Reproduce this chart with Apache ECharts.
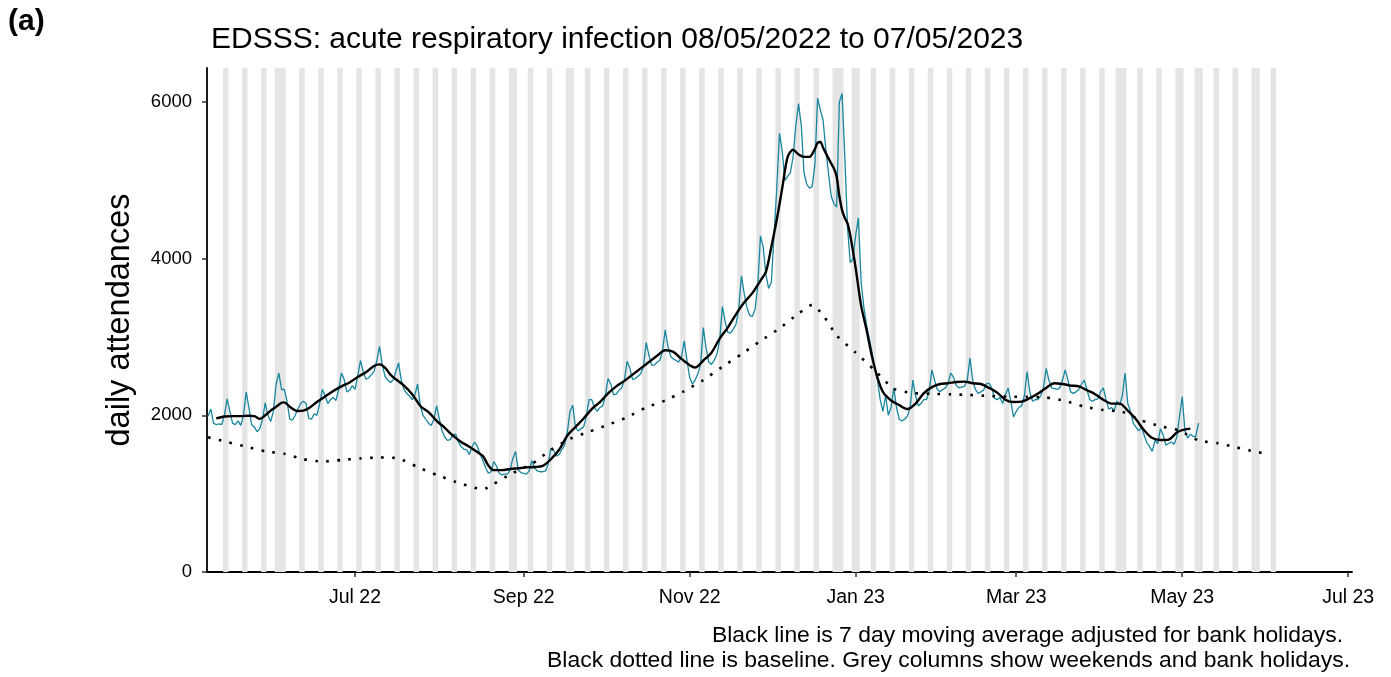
<!DOCTYPE html>
<html>
<head>
<meta charset="utf-8">
<title>EDSSS acute respiratory infection</title>
<script src="https://cdn.jsdelivr.net/npm/echarts@6/dist/echarts.min.js"></script>
<style>
  html, body { margin: 0; padding: 0; background: #ffffff; }
  #chart { width: 1391px; height: 677px; }
</style>
</head>
<body>
<div id="chart"></div>
<script>
// day 0 = Sun 08/05/2022
const startDate = [2022, 4, 8];

// daily attendances, one row per week (Sun .. Sat)
const dailyAttendances = [
  1990, 2080, 1900, 1880, 1890, 1880, 2000,
  2210, 2050, 1900, 1880, 1930, 1870, 2000,
  2300, 2100, 1880, 1850, 1790, 1830, 1950,
  2160, 2000, 1920, 2050, 2400, 2540, 2330,
  2330, 2180, 1950, 1940, 2000, 2080, 2150,
  2180, 2150, 1960, 1950, 2020, 2000, 2150,
  2330, 2250, 2150, 2200, 2230, 2190, 2330,
  2540, 2460, 2300, 2320, 2380, 2330, 2500,
  2700, 2560, 2460, 2480, 2520, 2560, 2700,
  2880, 2650, 2500, 2450, 2420, 2450, 2560,
  2670, 2450, 2330, 2280, 2250, 2200, 2260,
  2400, 2120, 2000, 1950, 1900, 1870, 1950,
  2120, 1950, 1800, 1720, 1680, 1690, 1750,
  1760, 1660, 1600, 1570, 1560, 1500, 1600,
  1660, 1600, 1500, 1420, 1330, 1260, 1280,
  1410, 1350, 1260, 1240, 1250, 1250, 1300,
  1450, 1540, 1300, 1270, 1260, 1250, 1290,
  1420, 1330, 1290, 1280, 1280, 1290, 1380,
  1580, 1550, 1480, 1500, 1560, 1620, 1780,
  2050, 2130, 1850, 1800, 1830, 1850, 1980,
  2200, 2200, 2100, 2050, 2100, 2120, 2250,
  2470, 2400, 2260, 2270, 2320, 2350, 2450,
  2690, 2600, 2460, 2470, 2500, 2530, 2620,
  2930, 2770, 2640, 2640, 2680, 2700, 2820,
  3090, 2880, 2750, 2720, 2700, 2680, 2750,
  2950, 2700, 2480, 2400, 2450, 2530, 2650,
  3120, 2860, 2680, 2650, 2700, 2780, 2950,
  3390, 3200, 3060, 3050, 3100, 3160, 3350,
  3780, 3560, 3380, 3280, 3260, 3350, 3650,
  4290, 4150, 3800, 3620, 3700, 4300, 4900,
  5600, 5370, 5000, 5050, 5100, 5300, 5700,
  5980, 5700, 5100, 4950, 4900, 4920, 5200,
  6050, 5900, 5770, 5400, 5090, 4800, 4700,
  4660, 6000, 6110, 5300, 4400, 3950, 4000,
  4300, 4520, 3700, 3380, 3150, 2980, 2800,
  2600, 2450, 2200, 2050, 2250, 2000, 2100,
  2350, 2100, 1950, 1930, 1950, 1990, 2100,
  2450, 2250, 2120, 2150, 2200, 2200, 2300,
  2580, 2450, 2330, 2300, 2330, 2350, 2420,
  2540, 2480, 2380, 2350, 2360, 2370, 2450,
  2730, 2450, 2330, 2280, 2300, 2320, 2400,
  2410, 2350, 2220, 2200, 2230, 2150, 2260,
  2350, 2180, 1980, 2050, 2100, 2120, 2250,
  2560, 2300, 2180, 2200, 2200, 2250, 2350,
  2600, 2450, 2350, 2340, 2330, 2350, 2450,
  2580, 2450, 2300, 2280, 2300, 2330, 2400,
  2450, 2330, 2200, 2180, 2200, 2210, 2300,
  2350, 2200, 2080, 2100, 2060, 2180, 2130,
  2250, 2540, 2150, 2050, 1900, 1850, 1800,
  1850, 1750, 1650, 1600, 1540, 1680, 1640,
  1830, 1750, 1620, 1640, 1660, 1630, 1720,
  1980, 2240, 1800, 1710, 1760, 1730, 1730,
  1900
];

// 7 day moving average (day offset, value)
const maDay = [
  3, 6, 9, 12, 15, 17, 19, 21, 23, 25, 27, 28, 30, 33, 35, 37, 40, 43, 46, 49,
  52, 55, 58, 61, 63, 65, 67, 69, 72, 75, 78, 81, 84, 87, 90, 93, 96, 99, 101, 103,
  105, 108, 111, 114, 117, 120, 123, 126, 129, 132, 135, 138, 141, 144, 147, 150, 153, 156, 159, 162,
  165, 168, 171, 174, 177, 179, 182, 185, 188, 191, 194, 197, 200, 203, 205, 207, 209, 211, 213, 215,
  217, 219, 221, 223, 224, 225, 226, 228, 230, 231, 232, 233, 234, 235, 236, 238, 240, 242, 244, 246,
  248, 251, 254, 257, 260, 263, 266, 269, 272, 275, 278, 281, 284, 287, 290, 293, 296, 299, 302, 305,
  308, 311, 314, 317, 320, 323, 326, 329, 332, 335, 338, 341, 344, 347, 350, 353, 356, 358, 361
];
const maValue = [
  1960, 1985, 1990, 1990, 1995, 1990, 1955, 2000, 2060, 2110, 2160, 2165, 2110, 2055, 2060, 2090, 2170, 2240, 2310, 2370,
  2420, 2490, 2550, 2630, 2650, 2610, 2520, 2460, 2380, 2270, 2120, 2040, 1930, 1840, 1740, 1660, 1600, 1530, 1480, 1360,
  1300, 1300, 1315, 1325, 1335, 1340, 1355, 1440, 1560, 1740, 1850, 1960, 2080, 2170, 2280, 2370, 2440, 2520, 2600, 2680,
  2760, 2830, 2810, 2720, 2640, 2610, 2700, 2800, 2980, 3120, 3290, 3440, 3560, 3720, 3830, 4150, 4500, 4900, 5300, 5390,
  5330, 5300, 5300, 5400, 5480, 5490, 5420, 5280, 5150, 5050, 4800, 4620, 4520, 4450, 4300, 3880, 3400, 3090, 2750, 2480,
  2300, 2190, 2130, 2080, 2150, 2280, 2360, 2400, 2410, 2425, 2430, 2410, 2400, 2350, 2290, 2200, 2170, 2175, 2220, 2280,
  2350, 2410, 2400, 2380, 2370, 2320, 2270, 2200, 2150, 2150, 2060, 1950, 1810, 1710, 1685, 1690, 1780, 1810, 1830
];

// baseline (day offset, value)
const baseDay = [
  0, 7, 14, 21, 28, 35, 42, 49, 56, 63, 70, 77, 84, 91, 98, 101, 105, 112, 119, 126,
  133, 140, 147, 154, 161, 168, 175, 182, 189, 196, 203, 210, 217, 222, 226, 231, 238, 245, 252, 259,
  266, 273, 280, 287, 294, 301, 308, 315, 322, 329, 336, 343, 350, 357, 364, 371, 378, 385, 389
];
const baseValue = [
  1720, 1660, 1600, 1540, 1510, 1440, 1410, 1430, 1450, 1462, 1450, 1340, 1240, 1150, 1075, 1055, 1125, 1265, 1380, 1560,
  1700, 1790, 1880, 1975, 2100, 2190, 2310, 2450, 2620, 2780, 2950, 3110, 3300, 3410, 3280, 3020, 2800, 2575, 2340, 2285,
  2275, 2268, 2260, 2247, 2238, 2235, 2228, 2185, 2110, 2068, 2045, 1935, 1860, 1805, 1680, 1645, 1590, 1535, 1510
];

const bankHolidays = [
  "2022-06-02", "2022-06-03", "2022-08-29", "2022-09-19", "2022-12-26", "2022-12-27",
  "2023-01-02", "2023-04-07", "2023-04-10", "2023-05-01", "2023-05-08", "2023-05-29"
];
const greyFrom = "2022-05-09";
const greyTo = "2023-06-04";

const tickDates = [
  [2022, 6, 1], [2022, 8, 1], [2022, 10, 1], [2023, 0, 1], [2023, 2, 1], [2023, 4, 1], [2023, 6, 1]
];
const monthNames = ["Jan", "Feb", "Mar", "Apr", "May", "Jun", "Jul", "Aug", "Sep", "Oct", "Nov", "Dec"];
const yTicks = [0, 2000, 4000, 6000];

const DAY = 86400000;
const START = new Date(startDate[0], startDate[1], startDate[2]).getTime();
const t = (d) => START + d * DAY;
const parseDay = (s) => {
  const p = s.split("-").map(Number);
  return Math.round((new Date(p[0], p[1] - 1, p[2]).getTime() - START) / DAY);
};
const xTicks = tickDates.map((a) => new Date(a[0], a[1], a[2]).getTime());

// grey columns: weekends and bank holidays, merged into runs
const bhDays = bankHolidays.map(parseDay);
const greyAreas = [];
let runStart = null;
for (let d = parseDay(greyFrom); d <= parseDay(greyTo) + 1; d++) {
  const dow = new Date(t(d) + 12 * 3600000).getDay();
  const grey = d <= parseDay(greyTo) && (dow === 0 || dow === 6 || bhDays.indexOf(d) >= 0);
  if (grey && runStart === null) runStart = d;
  if (!grey && runStart !== null) {
    greyAreas.push([{ xAxis: t(runStart - 0.5) }, { xAxis: t(d - 0.5) }]);
    runStart = null;
  }
}

const FONT = "'Liberation Sans', Arial, sans-serif";
const chart = echarts.init(document.getElementById("chart"), null, { renderer: "canvas" });

chart.setOption({
  animation: false,
  backgroundColor: "#ffffff",
  textStyle: { fontFamily: FONT },
  title: {
    text: "EDSSS: acute respiratory infection 08/05/2022 to 07/05/2023",
    left: 206,
    top: 20,
    textStyle: { fontFamily: FONT, fontSize: 30, fontWeight: "normal", color: "#000000" },
  },
  graphic: [
    {
      type: "text",
      left: 8,
      top: 7,
      style: { text: "(a)", font: "bold 30px " + FONT, fill: "#000000" },
    },
    {
      type: "text",
      right: 48,
      top: 624,
      style: {
        text: "Black line is 7 day moving average adjusted for bank holidays.",
        font: "22.9px " + FONT,
        fill: "#000000",
      },
    },
    {
      type: "text",
      right: 41,
      top: 649,
      style: {
        text: "Black dotted line is baseline. Grey columns show weekends and bank holidays.",
        font: "22.9px " + FONT,
        fill: "#000000",
      },
    },
  ],
  grid: {
    left: 207,
    right: 39,
    top: 68,
    bottom: 105,
    containLabel: false,
  },
  xAxis: {
    type: "value",
    min: t(-0.4),
    max: t(420.4),
    axisLine: { show: true, onZero: false, lineStyle: { color: "#000000", width: 1.8 } },
    axisTick: {
      show: true,
      length: 5,
      customValues: xTicks,
      lineStyle: { color: "#333333", width: 1.5 },
    },
    axisLabel: {
      customValues: xTicks,
      formatter: (val) => {
        const dt = new Date(val);
        return monthNames[dt.getMonth()] + " " + String(dt.getFullYear()).slice(2);
      },
      color: "#000000",
      fontSize: 19.5,
      fontFamily: FONT,
      margin: 16,
    },
    splitLine: { show: false },
  },
  yAxis: {
    type: "value",
    min: 0,
    max: 6434,
    name: "daily attendances",
    nameLocation: "middle",
    nameGap: 70,
    nameTextStyle: { fontFamily: FONT, fontSize: 32.5, color: "#000000" },
    axisLine: { show: true, lineStyle: { color: "#000000", width: 1.8 } },
    axisTick: {
      show: true,
      length: 5,
      customValues: yTicks,
      lineStyle: { color: "#333333", width: 1.5 },
    },
    axisLabel: {
      customValues: yTicks,
      formatter: (val) => String(val),
      color: "#000000",
      fontSize: 18.5,
      fontFamily: FONT,
      margin: 15,
    },
    splitLine: { show: false },
  },
  series: [
    {
      name: "grey",
      type: "line",
      data: [],
      silent: true,
      z: 1,
      markArea: {
        silent: true,
        itemStyle: { color: "#e5e5e5" },
        data: greyAreas,
      },
    },
    {
      name: "daily",
      type: "line",
      data: dailyAttendances.map((v, i) => [t(i), v]),
      showSymbol: false,
      lineStyle: { color: "#18869e", width: 1.3 },
      z: 3,
    },
    {
      name: "baseline",
      type: "line",
      data: baseDay.map((d, i) => [t(d), baseValue[i]]),
      showSymbol: false,
      smooth: 0.2,
      lineStyle: { color: "#000000", width: 2.6, type: [2.6, 8.4] },
      z: 4,
    },
    {
      name: "moving average",
      type: "line",
      data: maDay.map((d, i) => [t(d), maValue[i]]),
      showSymbol: false,
      smooth: 0.3,
      lineStyle: { color: "#000000", width: 2.4 },
      z: 5,
    },
  ],
});

window.addEventListener("resize", () => {
  chart && chart.resize();
});
</script>
</body>
</html>
